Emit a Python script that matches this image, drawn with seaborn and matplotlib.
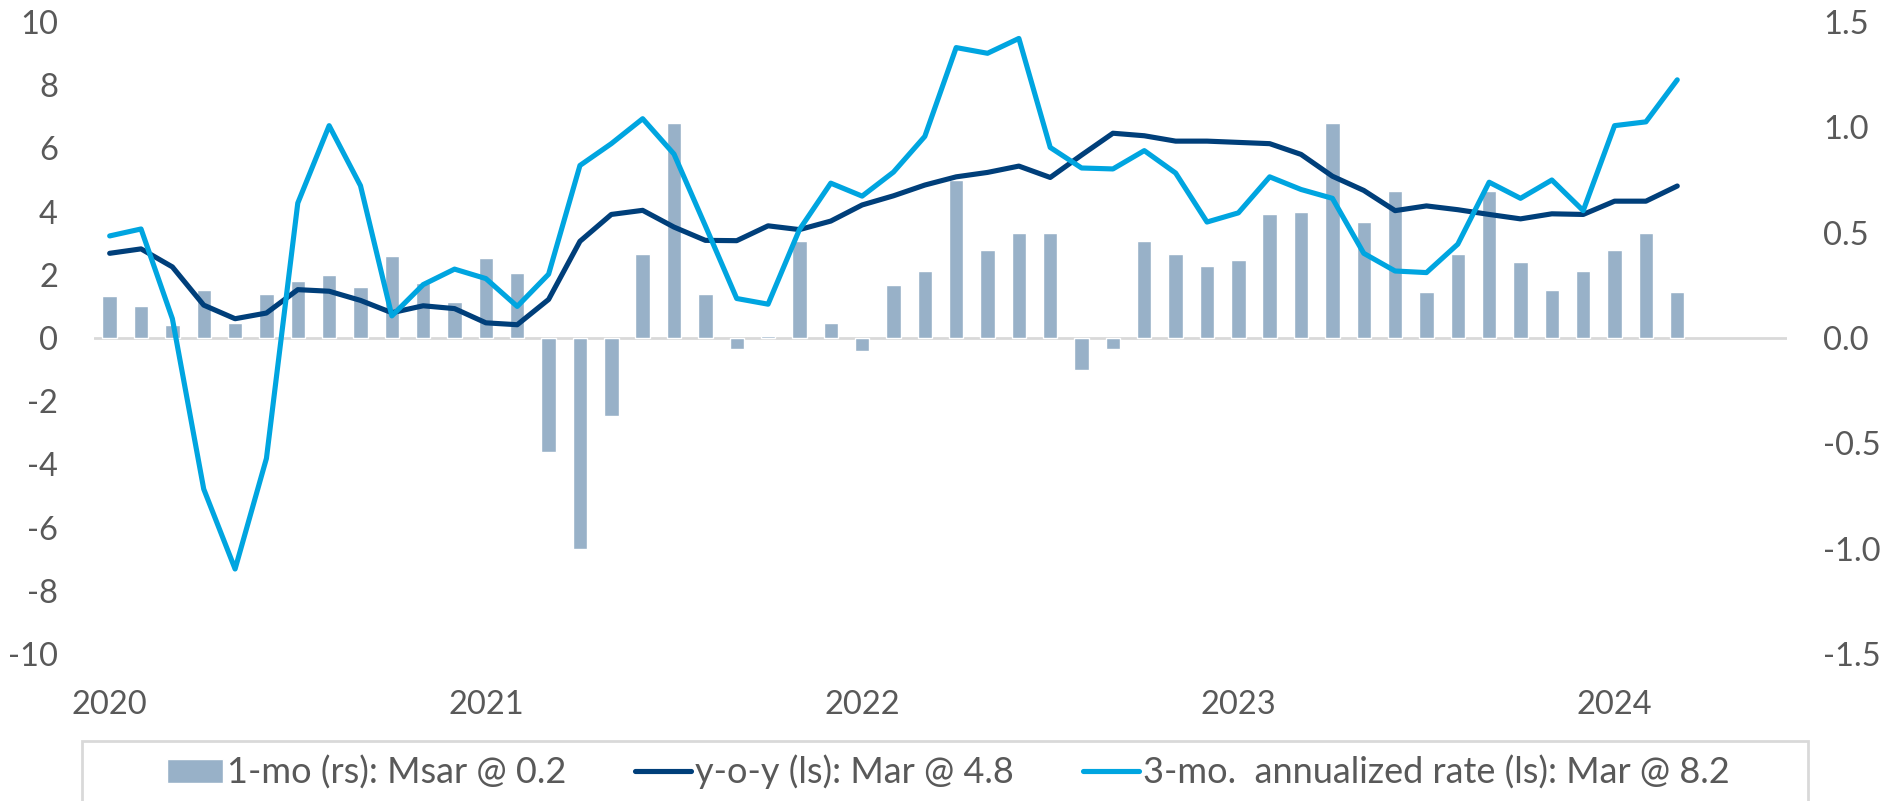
import numpy as np
import pandas as pd
import matplotlib
matplotlib.use('Agg')
import matplotlib.pyplot as plt
from matplotlib.patches import Rectangle
import seaborn as sns

# Data, monthly Jan 2020 .. Mar 2024
months = pd.date_range('2020-01-01', periods=51, freq='MS')
month_idx = np.arange(len(months))

# 1-month change, right scale (bars)
mom = [0.20, 0.15, 0.06, 0.23, 0.07, 0.21, 0.27, 0.30, 0.24, 0.39, 0.26, 0.17, 0.38,
       0.31, -0.54, -1.00, -0.37, 0.40, 1.02, 0.21, -0.05, 0.01, 0.46, 0.07, -0.06, 0.25,
       0.32, 0.75, 0.42, 0.50, 0.50, -0.15, -0.05, 0.46, 0.40, 0.34, 0.37, 0.59, 0.60,
       1.02, 0.55, 0.70, 0.22, 0.40, 0.70, 0.36, 0.23, 0.32, 0.42, 0.50, 0.22]

# y-o-y, left scale
yoy = [2.68, 2.82, 2.25, 1.04, 0.61, 0.79, 1.53, 1.48, 1.19, 0.80, 1.02, 0.93, 0.48,
       0.42, 1.22, 3.06, 3.91, 4.04, 3.51, 3.09, 3.08, 3.55, 3.43, 3.70, 4.21, 4.50,
       4.84, 5.10, 5.24, 5.44, 5.08, 5.79, 6.48, 6.40, 6.23, 6.23, 6.19, 6.15, 5.81,
       5.12, 4.67, 4.03, 4.18, 4.06, 3.91, 3.77, 3.93, 3.91, 4.33, 4.33, 4.81]

# 3-month annualized rate, left scale
ann3 = [3.23, 3.45, 0.61, -4.78, -7.31, -3.81, 4.27, 6.72, 4.82, 0.70, 1.69, 2.18, 1.88,
        1.00, 2.02, 5.46, 6.15, 6.94, 5.82, 3.55, 1.25, 1.07, 3.43, 4.90, 4.49, 5.25,
        6.38, 9.19, 9.01, 9.48, 6.03, 5.38, 5.35, 5.93, 5.22, 3.67, 3.96, 5.10, 4.70,
        4.42, 2.68, 2.12, 2.07, 2.97, 4.93, 4.42, 5.00, 4.03, 6.72, 6.84, 8.17]

year_ticks = [0, 12, 24, 36, 48]
year_labels = ['2020', '2021', '2022', '2023', '2024']
left_ticks = list(range(-10, 11, 2))
right_ticks = [-1.5, -1.0, -0.5, 0.0, 0.5, 1.0, 1.5]

labels = ['1-mo (rs): Msar @ 0.2', 'y-o-y (ls): Mar @ 4.8',
          '3-mo.  annualized rate (ls): Mar @ 8.2']

# Stil
sns.set_style('white')
plt.rcParams['font.family'] = ['Lato', 'DejaVu Sans']
plt.rcParams['axes.unicode_minus'] = False

txt = '#595959'
fs = 23.5

fig = plt.figure(figsize=(18.89, 8.01), dpi=100)
W, H = 1889, 801
ax = fig.add_axes([94 / W, 1 - 654 / H, (1787 - 94) / W, (654 - 22) / H])
ax2 = ax.twinx()

# Bars on the right axis
ax2.axhline(0, color='#D9D9D9', lw=2, zorder=0.5)
sns.barplot(x=month_idx, y=mom, native_scale=True, width=0.46, color='#98B1C8',
            saturation=1, errorbar=None, ax=ax2, label=labels[0], zorder=1)

# Lines on the left axis
sns.lineplot(x=month_idx, y=yoy, ax=ax, color='#003F7A', linewidth=3.7,
             label=labels[1], solid_capstyle='round', solid_joinstyle='round')
sns.lineplot(x=month_idx, y=ann3, ax=ax, color='#00A5E0', linewidth=3.7,
             label=labels[2], solid_capstyle='round', solid_joinstyle='round')

# Lines above the bars
ax.set_zorder(ax2.get_zorder() + 1)
ax.patch.set_visible(False)

for a in (ax, ax2):
    if a.get_legend() is not None:
        a.get_legend().remove()
    for s in a.spines.values():
        s.set_visible(False)
    a.set_xlabel('')
    a.set_ylabel('')
    a.tick_params(length=0, pad=26, labelsize=fs, colors=txt)

ax.set_ylim(-10, 10)
ax.set_yticks(left_ticks)
ax.set_yticklabels([str(v) for v in left_ticks])
ax2.set_ylim(-1.5, 1.5)
ax2.set_yticks(right_ticks)
ax2.set_yticklabels([f'{v:.1f}' for v in right_ticks])

ax.set_xlim(-0.5, 53.5)
ax.set_xticks(year_ticks)
ax.set_xticklabels(year_labels)
ax.grid(False)
ax2.grid(False)

# Legend below
h1, l1 = ax2.get_legend_handles_labels()
h2, l2 = ax.get_legend_handles_labels()
fig.legend(h1 + h2, l1 + l2, loc='center', bbox_to_anchor=(0.502, 1 - 772 / H),
           ncol=3, frameon=False, fontsize=26, handlelength=1.55,
           handleheight=0.65, handletextpad=0.12, columnspacing=1.9,
           labelcolor=txt)
fig.add_artist(Rectangle((82 / W, 1 - 840 / H), (1808 - 82) / W, (840 - 741) / H,
                         transform=fig.transFigure, fill=False,
                         edgecolor='#D9D9D9', lw=2))

fig.savefig('out.png', dpi=100)
